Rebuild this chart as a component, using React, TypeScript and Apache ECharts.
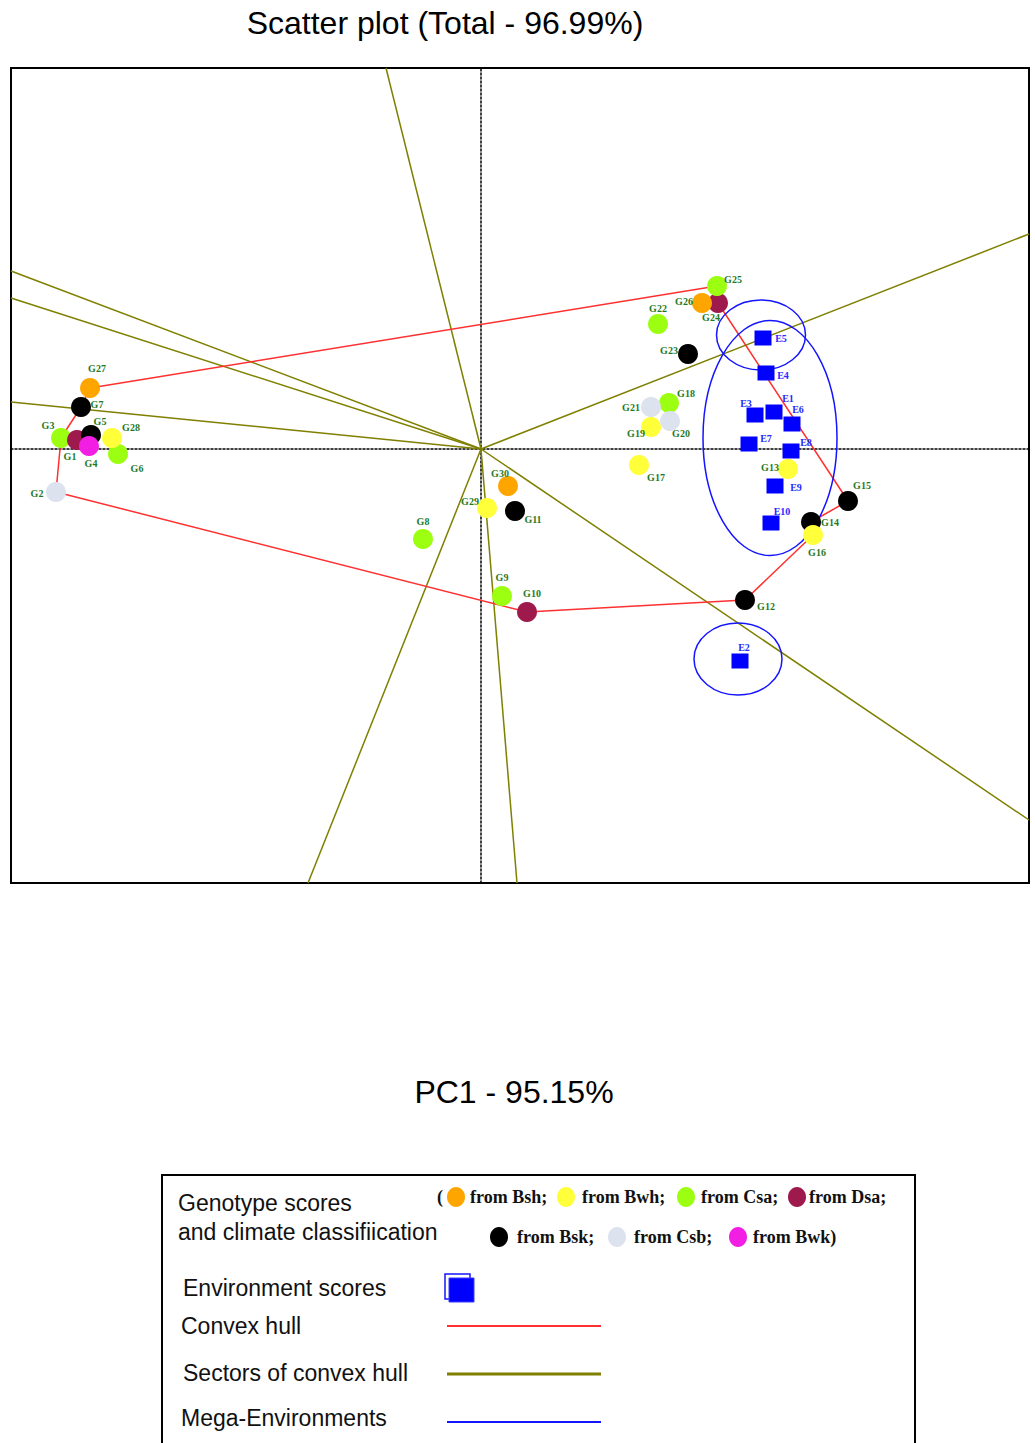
import React, { useEffect, useRef } from 'react';
import * as echarts from 'echarts';

// ---------------- data ----------------
const genoNames = ['G1','G2','G3','G4','G5','G6','G7','G8','G9','G10','G11','G12','G13','G14','G15','G16','G17','G18','G19','G20','G21','G22','G23','G24','G25','G26','G27','G28','G29','G30'];
const genoPC1 = [-4.04,-4.25,-4.20,-3.92,-3.90,-3.63,-4.00,-0.58,0.21,0.46,0.34,2.64,3.07,3.30,3.67,3.32,1.58,1.88,1.70,1.89,1.70,1.77,2.07,2.37,2.36,2.21,-3.91,-3.69,0.06,0.27];
const genoPC2 = [0.09,-0.43,0.11,0.03,0.14,-0.05,0.42,-0.90,-1.47,-1.63,-0.62,-1.51,-0.20,-0.73,-0.52,-0.86,-0.16,0.46,0.22,0.28,0.42,1.25,0.95,1.46,1.63,1.46,0.61,0.11,-0.59,-0.37];
const genoClimate = ['Dsa','Csb','Csa','Bwk','Bsk','Csa','Bsk','Csa','Csa','Dsa','Bsk','Bsk','Bwh','Bsk','Bsk','Bwh','Bwh','Csa','Bwh','Csb','Csb','Csa','Bsk','Dsa','Csa','Bsh','Bsh','Bwh','Bwh','Bsh'];
const genoDrawOrder = ['G3','G1','G2','G5','G4','G6','G7','G8','G9','G10','G11','G12','G13','G14','G15','G16','G17','G18','G19','G20','G21','G22','G23','G24','G25','G26','G27','G28','G29','G30'];

const envNames = ['E1','E2','E3','E4','E5','E6','E7','E8','E9','E10'];
const envPC1 = [2.93,2.59,2.74,2.85,2.82,3.11,2.68,3.10,2.94,2.90];
const envPC2 = [0.37,-2.12,0.34,0.76,1.11,0.25,0.05,-0.02,-0.37,-0.74];

const hullOrder = ['G27','G25','G24','G15','G14','G16','G12','G10','G2','G3','G7','G27'];

const sectorEndPC1 = [-0.95,-1.73,0.36,5.48,5.48,-4.70,-4.70,-4.70];
const sectorEndPC2 = [3.81,-4.34,-4.34,-3.71,2.15,1.78,1.51,0.47];

const megaCenterPC1 = [2.80,2.89,2.57];
const megaCenterPC2 = [1.14,0.11,-2.10];
const megaRadiusPC1 = [0.445,0.67,0.44];
const megaRadiusPC2 = [0.35,1.175,0.36];

const climateLegend = ['Bsh','Bwh','Csa','Dsa','Bsk','Csb','Bwk'];

// ---------------- styles ----------------
const climateColor: Record<string, string> = {
  Bsh: '#FFA500',
  Bwh: '#FFFF3A',
  Csa: '#9CFF12',
  Dsa: '#9E1A4C',
  Bsk: '#000000',
  Csb: '#DCE2EE',
  Bwk: '#F21EE4',
};

const genoLabelOffset: Record<string, number[]> = {
  G1: [-7, 16], G2: [-19, 1], G3: [-13, -13], G4: [2, 17], G5: [9, -14], G6: [19, 14],
  G7: [16, -3], G8: [0, -18], G9: [0, -19], G10: [5, -19], G11: [18, 8], G12: [21, 6],
  G13: [-18, -2], G14: [19, 0], G15: [14, -16], G16: [4, 17], G17: [17, 12], G18: [17, -10],
  G19: [-15, 6], G20: [11, 12], G21: [-20, 0], G22: [0, -16], G23: [-19, -4], G24: [-7, 14],
  G25: [16, -7], G26: [-18, -2], G27: [7, -20], G28: [19, -11], G29: [-17, -7], G30: [-8, -13],
};
const envLabelOffset: Record<string, number[]> = {
  E1: [14, -14], E2: [4, -14], E3: [-9, -12], E4: [17, 2], E5: [18, 0], E6: [6, -15],
  E7: [17, -6], E8: [15, -9], E9: [21, 1], E10: [11, -12],
};

const legendSlots = [
  { cx: 456, cy: 1197, tx: 470 },
  { cx: 566, cy: 1197, tx: 582 },
  { cx: 686, cy: 1197, tx: 701 },
  { cx: 797, cy: 1197, tx: 809 },
  { cx: 499, cy: 1237, tx: 517 },
  { cx: 617, cy: 1237, tx: 634 },
  { cx: 738, cy: 1237, tx: 753 },
];

const SANS = '"Liberation Sans", Arial, sans-serif';
const SERIF = '"Liberation Serif", "Times New Roman", serif';
const RED = '#FF3030';
const OLIVE = '#7F7F00';
const BLUE = '#1414FF';

function idx(name: string) {
  return genoNames.indexOf(name);
}

export default function App() {
  const ref = useRef<HTMLDivElement>(null);

  useEffect(() => {
    if (!ref.current) return;
    const chart = echarts.init(ref.current, undefined, { renderer: 'svg' });

    const genoData = genoDrawOrder.map((n) => {
      const i = idx(n);
      return {
        name: n,
        value: [genoPC1[i], genoPC2[i]],
        itemStyle: { color: climateColor[genoClimate[i]] },
        label: { offset: genoLabelOffset[n] },
      };
    });

    const envData = envNames.map((n, i) => ({
      name: n,
      value: [envPC1[i], envPC2[i]],
      label: { offset: envLabelOffset[n] },
    }));

    const hullData = hullOrder.map((n) => [genoPC1[idx(n)], genoPC2[idx(n)]]);

    const sectorData = sectorEndPC1.map((x, i) => ({ coords: [[0, 0], [x, sectorEndPC2[i]]] }));

    const megaData = megaCenterPC1.map((x, i) => [x, megaCenterPC2[i], megaRadiusPC1[i], megaRadiusPC2[i]]);

    const graphics: any[] = [
      {
        type: 'text', x: 445, y: 23,
        style: { text: 'Scatter plot (Total - 96.99%)', fontSize: 32, fontFamily: SANS, fill: '#000', align: 'center', verticalAlign: 'middle' },
      },
      {
        type: 'text', x: 514, y: 1092,
        style: { text: 'PC1 - 95.15%', fontSize: 32, fontFamily: SANS, fill: '#000', align: 'center', verticalAlign: 'middle' },
      },
      {
        type: 'rect', shape: { x: 162, y: 1175, width: 753, height: 300 },
        style: { fill: 'none', stroke: '#000', lineWidth: 2 },
      },
      { type: 'text', x: 178, y: 1203, style: { text: 'Genotype scores', fontSize: 23, fontFamily: SANS, fill: '#111', align: 'left', verticalAlign: 'middle' } },
      { type: 'text', x: 178, y: 1232, style: { text: 'and climate classifiication', fontSize: 23, fontFamily: SANS, fill: '#111', align: 'left', verticalAlign: 'middle' } },
      { type: 'text', x: 437, y: 1197, style: { text: '(', fontSize: 18, fontWeight: 'bold', fontFamily: SERIF, fill: '#111', align: 'left', verticalAlign: 'middle' } },
      { type: 'text', x: 183, y: 1288, style: { text: 'Environment scores', fontSize: 23, fontFamily: SANS, fill: '#111', align: 'left', verticalAlign: 'middle' } },
      { type: 'rect', shape: { x: 445, y: 1274, width: 25, height: 25 }, style: { fill: 'none', stroke: BLUE, lineWidth: 1.5 } },
      { type: 'rect', shape: { x: 449, y: 1278, width: 25, height: 24 }, style: { fill: '#0000FF', stroke: '#3a3aff', lineWidth: 1 } },
      { type: 'text', x: 181, y: 1326, style: { text: 'Convex hull', fontSize: 23, fontFamily: SANS, fill: '#111', align: 'left', verticalAlign: 'middle' } },
      { type: 'line', shape: { x1: 447, y1: 1326, x2: 601, y2: 1326 }, style: { stroke: RED, lineWidth: 2 } },
      { type: 'text', x: 183, y: 1373, style: { text: 'Sectors of convex hull', fontSize: 23, fontFamily: SANS, fill: '#111', align: 'left', verticalAlign: 'middle' } },
      { type: 'line', shape: { x1: 447, y1: 1374, x2: 601, y2: 1374 }, style: { stroke: OLIVE, lineWidth: 3 } },
      { type: 'text', x: 181, y: 1418, style: { text: 'Mega-Environments', fontSize: 23, fontFamily: SANS, fill: '#111', align: 'left', verticalAlign: 'middle' } },
      { type: 'line', shape: { x1: 447, y1: 1422, x2: 601, y2: 1422 }, style: { stroke: BLUE, lineWidth: 2 } },
    ];

    climateLegend.forEach((c, i) => {
      const s = legendSlots[i];
      graphics.push({
        type: 'ellipse', shape: { cx: s.cx, cy: s.cy, rx: 9, ry: 10 },
        style: { fill: climateColor[c], stroke: 'none' },
      });
      graphics.push({
        type: 'text', x: s.tx, y: s.cy,
        style: {
          text: 'from ' + c + (i === climateLegend.length - 1 ? ')' : ';'),
          fontSize: 18, fontWeight: 'bold', fontFamily: SERIF, fill: '#111', align: 'left', verticalAlign: 'middle',
        },
      });
    });

    chart.setOption({
      animation: false,
      backgroundColor: '#ffffff',
      grid: { left: 11, top: 68, width: 1018, height: 815, show: true, borderColor: '#000', borderWidth: 2, backgroundColor: 'transparent' },
      xAxis: {
        type: 'value', min: -4.70, max: 5.48,
        axisLine: { show: true, onZero: true, lineStyle: { color: '#000', type: [2, 2], width: 1.5 } },
        axisTick: { show: false }, axisLabel: { show: false }, splitLine: { show: false },
      },
      yAxis: {
        type: 'value', min: -4.34, max: 3.81,
        axisLine: { show: true, onZero: true, lineStyle: { color: '#000', type: [2, 2], width: 1.5 } },
        axisTick: { show: false }, axisLabel: { show: false }, splitLine: { show: false },
      },
      graphic: graphics,
      series: [
        {
          name: 'Sectors of convex hull',
          type: 'lines',
          coordinateSystem: 'cartesian2d',
          data: sectorData,
          symbol: 'none',
          lineStyle: { color: OLIVE, width: 1.5, opacity: 1 },
          silent: true,
          z: 2,
        },
        {
          name: 'Convex hull',
          type: 'line',
          data: hullData,
          symbol: 'none',
          lineStyle: { color: RED, width: 1.5 },
          silent: true,
          z: 3,
        },
        {
          name: 'Mega-Environments',
          type: 'custom',
          data: megaData,
          encode: { x: 0, y: 1 },
          clip: true,
          renderItem: (params: any, api: any) => {
            const c = api.coord([api.value(0), api.value(1)]);
            const s = api.size([api.value(2), api.value(3)]);
            return {
              type: 'ellipse',
              shape: { cx: c[0], cy: c[1], rx: s[0], ry: s[1] },
              style: { fill: 'none', stroke: BLUE, lineWidth: 1.5 },
            };
          },
          silent: true,
          z: 4,
        },
        {
          name: 'Environment scores',
          type: 'scatter',
          data: envData,
          symbol: 'rect',
          symbolSize: [17, 15],
          itemStyle: { color: '#0000FF', opacity: 1 },
          label: {
            show: true, position: 'inside', formatter: '{b}',
            fontFamily: SERIF, fontWeight: 'bold', fontSize: 10, color: '#2828FF',
          },
          z: 5,
        },
        {
          name: 'Genotype scores',
          type: 'scatter',
          data: genoData,
          symbol: 'circle',
          symbolSize: 20,
          itemStyle: { opacity: 1 },
          label: {
            show: true, position: 'inside', formatter: '{b}',
            fontFamily: SERIF, fontWeight: 'bold', fontSize: 10, color: '#1F7A1F',
          },
          z: 6,
        },
      ],
    });

    return () => chart.dispose();
  }, []);

  return (
    <div
      ref={ref}
      style={{ position: 'absolute', left: 0, top: 0, width: 1035, height: 1443, background: '#fff' }}
    />
  );
}
